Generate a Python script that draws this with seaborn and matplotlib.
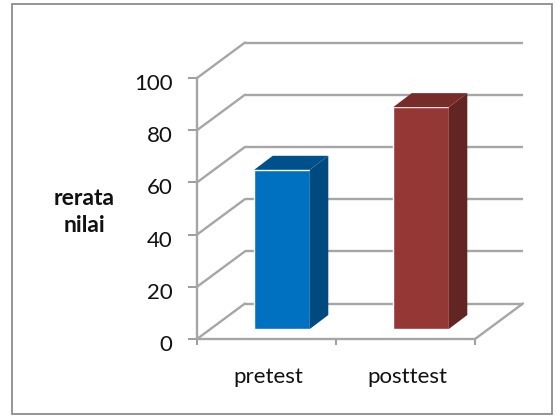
import matplotlib
matplotlib.use("Agg")
import matplotlib.pyplot as plt
import seaborn as sns
import pandas as pd
from matplotlib.patches import Polygon, Rectangle
from matplotlib.transforms import Affine2D

categories = ["pretest", "posttest"]
values = [61, 85]
front_colors = ["#0070C0", "#953735"]
side_colors = ["#004A80", "#632523"]
top_colors = ["#00508C", "#772C2A"]
y_ticks = [0, 20, 40, 60, 80, 100]

GREY = "#a6a6a6"
W, H = 557, 416

sns.set_theme(style="white")
plt.rcParams["font.family"] = ["Lato", "DejaVu Sans"]

fig = plt.figure(figsize=(W / 100, H / 100), dpi=100, facecolor="white")
ax = fig.add_axes([197 / W, (H - 339) / H, 278 / W, 261 / H])
ax.patch.set_alpha(0)

# Panel border around the whole chart
fig.add_artist(Rectangle((12 / W, 2 / H), 540 / W, 410 / H, transform=fig.transFigure,
                         fill=False, edgecolor="#8c8c8c", linewidth=1.3))

df = pd.DataFrame({"group": categories, "score": values})
sns.barplot(data=df, x="group", y="score", hue="group", palette=front_colors,
            width=0.4, legend=False, dodge=False, ax=ax, saturation=1)

ax.set_xlim(-0.5, 1.5)
ax.set_ylim(0, 100)

# Pixel offsets of the pseudo-3D view: back wall and bar depth
wall = ax.transData + Affine2D().translate(48, 35.5)
bar_shift = Affine2D().translate(15.5, 10)
bar_dx, bar_dy = 18.5, 14

# Back wall gridlines and the receding lines on the side wall
for v in y_ticks:
    ax.plot([-0.5, 1.5], [v, v], transform=wall, color=GREY, lw=1.7,
            clip_on=False, zorder=1.5, solid_capstyle="butt")
    p0 = ax.transData.transform((-0.5, v))
    p1 = p0 + (48, 35.5)
    ax.plot([p0[0], p1[0]], [p0[1], p1[1]], transform=None, color=GREY, lw=1.7,
            clip_on=False, zorder=1.5)

# Right edge of the floor
p0 = ax.transData.transform((1.5, 0))
ax.plot([p0[0], p0[0] + 48], [p0[1], p0[1] + 35.5], transform=None,
        color=GREY, lw=1.7, clip_on=False, zorder=1.5)

# Bars: shift the front faces onto the floor and add side and top faces
for patch, side, top in zip(ax.patches, side_colors, top_colors):
    patch.set_transform(ax.transData + bar_shift)
    patch.set_zorder(3)
    patch.set_clip_on(False)
    x0, w, h = patch.get_x(), patch.get_width(), patch.get_height()
    ll = (ax.transData + bar_shift).transform((x0, 0))
    ur = (ax.transData + bar_shift).transform((x0 + w, h))
    side_pts = [(ur[0], ll[1]), (ur[0] + bar_dx, ll[1] + bar_dy),
                (ur[0] + bar_dx, ur[1] + bar_dy), (ur[0], ur[1])]
    top_pts = [(ll[0], ur[1]), (ur[0], ur[1]),
               (ur[0] + bar_dx, ur[1] + bar_dy), (ll[0] + bar_dx, ur[1] + bar_dy)]
    ax.add_patch(Polygon(side_pts, closed=True, transform=None, facecolor=side,
                         edgecolor="none", zorder=3, clip_on=False))
    ax.add_patch(Polygon(top_pts, closed=True, transform=None, facecolor=top,
                         edgecolor="none", zorder=3, clip_on=False))

# Axes, ticks and labels
for name in ("top", "right"):
    ax.spines[name].set_visible(False)
for name in ("left", "bottom"):
    ax.spines[name].set_color(GREY)
    ax.spines[name].set_linewidth(1.7)

ax.set_yticks(y_ticks)
ax.set_yticklabels([str(v) for v in y_ticks], fontsize=16, color="#111111")
ax.tick_params(axis="y", which="major", left=True, length=6.5, width=1.2, color="#8c8c8c", pad=11)
for label in ax.get_yticklabels():
    label.set_transform(label.get_transform() + Affine2D().translate(0, -4))

ax.set_xticks([0, 1])
ax.set_xticklabels(categories, fontsize=16, color="#111111")
ax.set_xticks([-0.5, 0.5, 1.5], minor=True)
ax.tick_params(axis="x", which="minor", bottom=True, length=4, width=1.2, color="#8c8c8c")
ax.tick_params(axis="x", which="major", bottom=False, pad=14)
for label in ax.get_xticklabels():
    label.set_transform(label.get_transform() + Affine2D().translate(1.5, 0))

ax.set_xlabel("")
ax.set_ylabel("rerata\nnilai", rotation=0, fontsize=16.5, fontweight="bold",
              color="#111111", ha="center", va="center", linespacing=1.35)
ax.yaxis.set_label_coords((84 - 197) / 278, (339 - 212) / 261)

fig.savefig("out.png", dpi=100, facecolor="white")
